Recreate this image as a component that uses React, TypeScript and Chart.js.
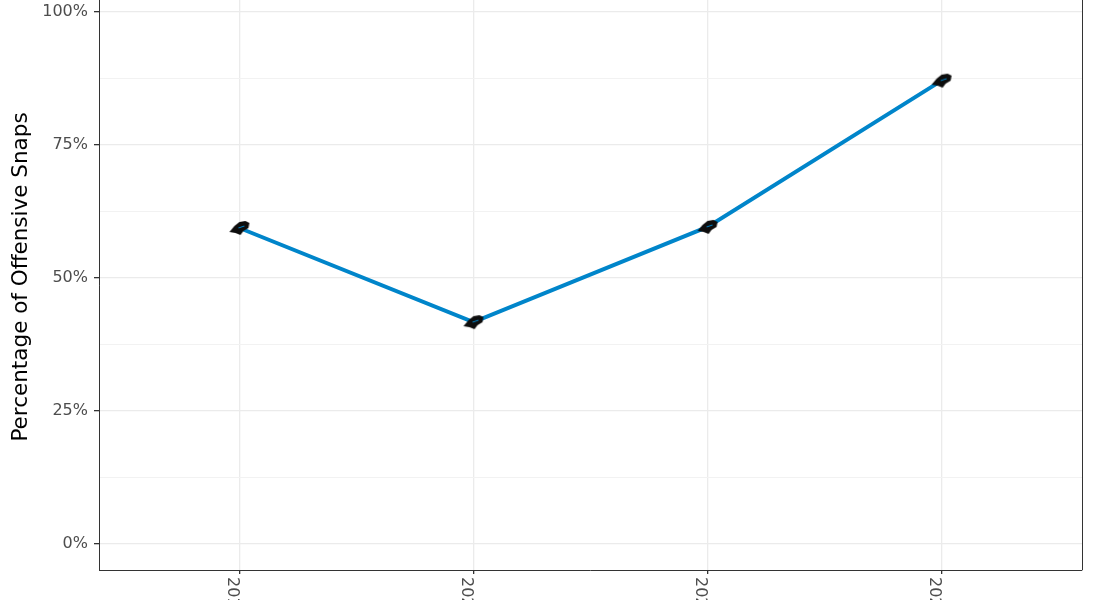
import React, { useEffect, useRef } from "react";
import { Chart, registerables } from "chart.js";

Chart.register(...registerables);

const seasons: string[] = ["2019", "2020", "2021", "2022"];
const snapShare: number[] = [59.4, 41.7, 59.6, 87.1];
const majorYTicks: number[] = [0, 25, 50, 75, 100];
const minorYTicks: number[] = [12.5, 37.5, 62.5, 87.5];
const yTitle = "Percentage of Offensive Snaps";

const FONT = "'DejaVu Sans', sans-serif";

function makeMarker(): HTMLCanvasElement {
  const c = document.createElement("canvas");
  c.width = 22;
  c.height = 16;
  const g = c.getContext("2d")!;
  g.fillStyle = "#0d0d0d";
  g.beginPath();
  g.moveTo(1, 12);
  g.lineTo(6, 6);
  g.lineTo(11, 2);
  g.lineTo(17, 1);
  g.lineTo(21, 3);
  g.lineTo(20, 8);
  g.lineTo(15, 11);
  g.lineTo(12, 15);
  g.lineTo(7, 13);
  g.closePath();
  g.fill();
  g.strokeStyle = "#0085CA";
  g.lineWidth = 1;
  g.beginPath();
  g.moveTo(10, 8);
  g.lineTo(16, 6);
  g.stroke();
  return c;
}

export default function App() {
  const ref = useRef<HTMLCanvasElement | null>(null);

  useEffect(() => {
    const canvas = ref.current!;
    const marker = makeMarker();
    const pxTop = 12, pxZero = 544, pxBottom = 570;
    const perPct = (pxZero - pxTop) / 100;
    const yMax = 100 + pxTop / perPct;
    const yMin = -(pxBottom - pxZero) / perPct;

    const decor = {
      id: "decor",
      afterDraw(chart: any) {
        const { ctx, chartArea } = chart;
        ctx.save();
        ctx.strokeStyle = "#333333";
        ctx.lineWidth = 1;
        ctx.beginPath();
        ctx.moveTo(chartArea.right + 0.5, chartArea.top);
        ctx.lineTo(chartArea.right + 0.5, chartArea.bottom);
        ctx.stroke();
        // x labels rotated clockwise
        const xs = chart.scales.x;
        ctx.fillStyle = "#4D4D4D";
        ctx.font = `16px ${FONT}`;
        seasons.forEach((s, i) => {
          const px = xs.getPixelForValue(i + 1);
          ctx.save();
          ctx.translate(px - 7, chartArea.bottom + 7);
          ctx.rotate(Math.PI / 2);
          ctx.textAlign = "left";
          ctx.textBaseline = "middle";
          ctx.fillText(s, 0, 0);
          ctx.restore();
        });
        // y title
        ctx.save();
        ctx.fillStyle = "#000000";
        ctx.font = `21.5px ${FONT}`;
        ctx.translate(21, 277);
        ctx.rotate(-Math.PI / 2);
        ctx.textAlign = "center";
        ctx.textBaseline = "middle";
        ctx.fillText(yTitle, 0, 0);
        ctx.restore();
        ctx.restore();
      },
    };

    const chart = new Chart(canvas, {
      type: "line",
      data: {
        datasets: [
          {
            data: snapShare.map((v, i) => ({ x: i + 1, y: v })),
            borderColor: "#0085CA",
            borderWidth: 4,
            pointStyle: marker as any,
            pointRadius: 9,
            tension: 0,
            clip: false as any,
          },
        ],
      },
      options: {
        animation: false,
        responsive: false,
        maintainAspectRatio: false,
        layout: { autoPadding: false, padding: { top: 0, right: 13, bottom: 0, left: 0 } },
        plugins: { legend: { display: false }, tooltip: { enabled: false } },
        scales: {
          x: {
            type: "linear",
            min: 0.4,
            max: 4.6,
            afterBuildTicks: (s: any) => {
              s.ticks = seasons.map((_, i) => ({ value: i + 1 }));
            },
            afterFit: (s: any) => {
              s.height = 30;
              s.paddingLeft = 0;
              s.paddingRight = 0;
            },
            ticks: { autoSkip: false, callback: () => "", font: { size: 13, family: FONT } },
            grid: { color: "#EBEBEB", lineWidth: 1.3, tickColor: "#333333", tickLength: 4 },
            border: { display: true, color: "#333333", width: 1 },
          },
          y: {
            type: "linear",
            min: yMin,
            max: yMax,
            afterBuildTicks: (s: any) => {
              const all = [...majorYTicks, ...minorYTicks].sort((a, b) => a - b);
              s.ticks = all.map((v) => ({ value: v }));
            },
            afterFit: (s: any) => {
              s.width = 99;
              s.paddingTop = 0;
              s.paddingBottom = 0;
            },
            ticks: {
              autoSkip: false,
              color: "#4D4D4D",
              font: { size: 16, family: FONT },
              padding: 6,
              callback: (v: any) => (majorYTicks.includes(Number(v)) ? `${v}%` : ""),
            },
            grid: {
              color: (c: any) => (majorYTicks.includes(c.tick?.value) ? "#EBEBEB" : "#F2F2F2"),
              lineWidth: (c: any) => (majorYTicks.includes(c.tick?.value) ? 1.3 : 1),
              tickColor: (c: any) => (majorYTicks.includes(c.tick?.value) ? "#333333" : "rgba(0,0,0,0)"),
              tickLength: 5,
            },
            border: { display: true, color: "#333333", width: 1 },
          },
        },
      },
      plugins: [decor],
    });
    return () => chart.destroy();
  }, []);

  return (
    <div style={{ position: "fixed", left: 0, top: 0, width: 1095, height: 600, background: "#fff" }}>
      <canvas ref={ref} width={1095} height={600} style={{ display: "block" }} />
    </div>
  );
}
